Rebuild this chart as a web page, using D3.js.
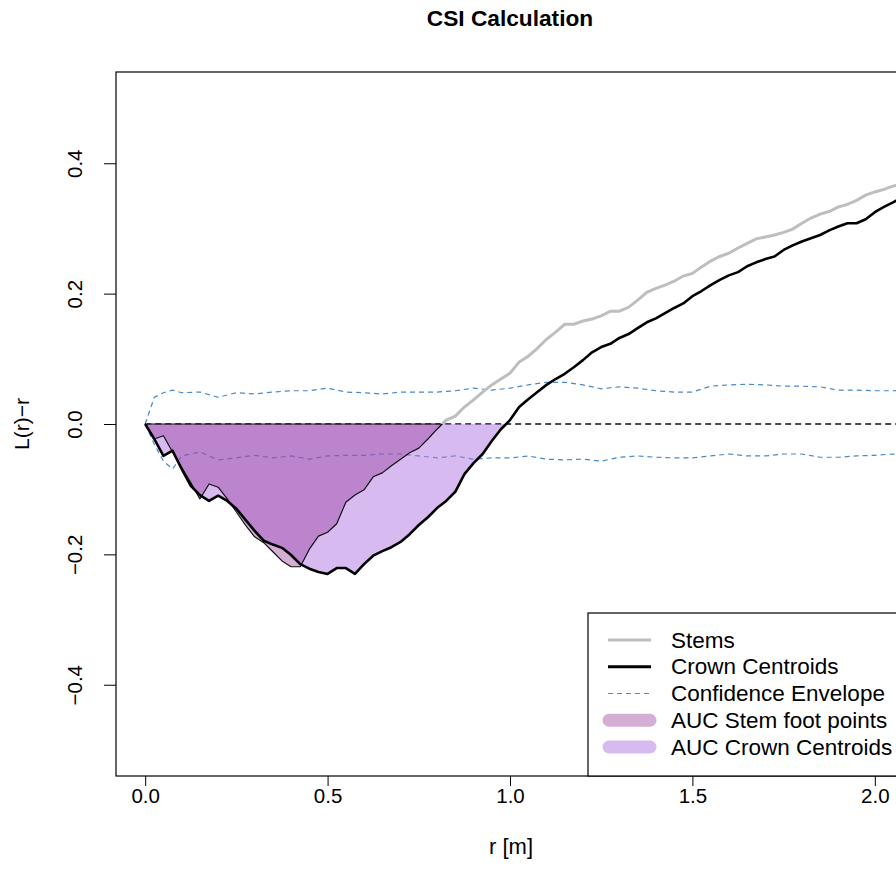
<!DOCTYPE html>
<html>
<head>
<meta charset="utf-8">
<script src="https://cdn.jsdelivr.net/npm/d3@7.9.0/dist/d3.min.js"></script>
<style>
  body { margin: 0; background: #fff; }
  svg { display: block; font-family: "Liberation Sans", Arial, Helvetica, sans-serif; }
</style>
</head>
<body>
<svg id="chart" width="896" height="888"></svg>
<script>
// r grid of the K/L estimates (m)
const r = [0, 0.025, 0.05, 0.075, 0.1, 0.125, 0.15, 0.175, 0.2, 0.225,
  0.25, 0.275, 0.3, 0.325, 0.35, 0.375, 0.4, 0.425, 0.45, 0.475,
  0.5, 0.525, 0.55, 0.575, 0.6, 0.625, 0.65, 0.675, 0.7, 0.725,
  0.75, 0.775, 0.8, 0.825, 0.85, 0.875, 0.9, 0.925, 0.95, 0.975,
  1.0, 1.025, 1.05, 1.075, 1.1, 1.125, 1.15, 1.175, 1.2, 1.225,
  1.25, 1.275, 1.3, 1.325, 1.35, 1.375, 1.4, 1.425, 1.45, 1.475,
  1.5, 1.525, 1.55, 1.575, 1.6, 1.625, 1.65, 1.675, 1.7, 1.725,
  1.75, 1.775, 1.8, 1.825, 1.85, 1.875, 1.9, 1.925, 1.95, 1.975,
  2.0, 2.025, 2.05, 2.075, 2.1];

// L(r)-r for stem foot points
const stems = [0, -0.023, -0.018, -0.043, -0.067, -0.090, -0.115, -0.092, -0.097, -0.115,
  -0.135, -0.155, -0.173, -0.182, -0.196, -0.210, -0.219, -0.219, -0.192, -0.172,
  -0.166, -0.153, -0.120, -0.109, -0.101, -0.081, -0.075, -0.064, -0.054, -0.044,
  -0.037, -0.023, -0.008, 0.006, 0.012, 0.026, 0.037, 0.049, 0.060, 0.069,
  0.078, 0.095, 0.104, 0.116, 0.130, 0.141, 0.153, 0.153, 0.158, 0.161,
  0.166, 0.173, 0.173, 0.179, 0.190, 0.202, 0.208, 0.213, 0.219, 0.227,
  0.231, 0.241, 0.250, 0.257, 0.262, 0.270, 0.277, 0.284, 0.287, 0.290,
  0.294, 0.299, 0.308, 0.316, 0.322, 0.326, 0.333, 0.337, 0.343, 0.351,
  0.356, 0.360, 0.365, 0.368, 0.371];

// L(r)-r for crown centroids
const crowns = [0, -0.023, -0.049, -0.041, -0.069, -0.095, -0.109, -0.118, -0.110, -0.118,
  -0.130, -0.147, -0.164, -0.179, -0.185, -0.190, -0.201, -0.215, -0.222, -0.227,
  -0.230, -0.221, -0.221, -0.230, -0.215, -0.202, -0.195, -0.189, -0.181, -0.169,
  -0.155, -0.143, -0.129, -0.118, -0.104, -0.077, -0.060, -0.046, -0.026, -0.008,
  0.006, 0.026, 0.038, 0.049, 0.060, 0.069, 0.077, 0.087, 0.098, 0.110,
  0.118, 0.123, 0.132, 0.138, 0.147, 0.156, 0.162, 0.170, 0.178, 0.185,
  0.196, 0.204, 0.213, 0.221, 0.228, 0.233, 0.242, 0.248, 0.253, 0.257,
  0.267, 0.274, 0.280, 0.285, 0.290, 0.297, 0.303, 0.308, 0.308, 0.314,
  0.325, 0.333, 0.340, 0.348, 0.354];

// confidence envelope
const envR = [0, 0.025, 0.05, 0.075,
  0.1, 0.15, 0.2, 0.25, 0.3, 0.35, 0.4, 0.45, 0.5, 0.55,
  0.6, 0.65, 0.7, 0.75, 0.8, 0.85, 0.9, 0.95, 1.0, 1.05,
  1.1, 1.15, 1.2, 1.25, 1.3, 1.35, 1.4, 1.45, 1.5, 1.55,
  1.6, 1.65, 1.7, 1.75, 1.8, 1.85, 1.9, 1.95, 2.0, 2.05, 2.1];
const envHi = [0, 0.041, 0.048, 0.052,
  0.048, 0.049, 0.041, 0.048, 0.046, 0.049, 0.051, 0.051, 0.055, 0.049,
  0.048, 0.046, 0.049, 0.049, 0.049, 0.051, 0.055, 0.052, 0.055, 0.060,
  0.064, 0.064, 0.060, 0.054, 0.057, 0.055, 0.051, 0.049, 0.049, 0.058,
  0.060, 0.061, 0.060, 0.058, 0.058, 0.057, 0.052, 0.052, 0.051, 0.051, 0.052];
const envLo = [0, -0.031, -0.057, -0.069,
  -0.049, -0.043, -0.055, -0.052, -0.048, -0.052, -0.049, -0.054, -0.049, -0.048,
  -0.048, -0.046, -0.046, -0.049, -0.052, -0.049, -0.054, -0.052, -0.052, -0.049,
  -0.054, -0.055, -0.054, -0.057, -0.051, -0.049, -0.051, -0.052, -0.052, -0.049,
  -0.046, -0.049, -0.049, -0.046, -0.046, -0.051, -0.051, -0.049, -0.048, -0.046, -0.048];

const xTicks = [0, 0.5, 1, 1.5, 2];
const yTicks = [-0.4, -0.2, 0, 0.2, 0.4];

const legendLabels = ['Stems', 'Crown Centroids', 'Confidence Envelope',
  'AUC Stem foot points', 'AUC Crown Centroids'];

const stemFill = 'rgba(145,42,145,0.38)';
const crownFill = 'rgba(175,120,225,0.5)';
const envColor = '#4a88c6';

const plotL = 116, plotR = 904, plotT = 72, plotB = 776;

const svg = d3.select('#chart');
const x = d3.scaleLinear().domain([-0.08, 2.08]).range([plotL, plotR]);
const y = d3.scaleLinear().domain([-0.54, 0.54]).range([plotB, plotT]);

const defs = svg.append('defs');
defs.append('clipPath').attr('id', 'plotclip')
  .append('rect').attr('x', plotL).attr('y', plotT)
  .attr('width', plotR - plotL).attr('height', plotB - plotT);
defs.append('clipPath').attr('id', 'posclip')
  .append('rect').attr('x', plotL).attr('y', plotT)
  .attr('width', plotR - plotL).attr('height', y(0) - plotT);

const plot = svg.append('g').attr('clip-path', 'url(#plotclip)');

const line = d3.line().x((d) => x(d[0])).y((d) => y(d[1]));

// envelope
[envHi, envLo].forEach((vals) => {
  plot.append('path')
    .attr('d', line(envR.map((d, i) => [d, vals[i]])))
    .attr('fill', 'none')
    .attr('stroke', envColor)
    .attr('stroke-width', 1.2)
    .attr('stroke-dasharray', '5,4');
});

// theoretical zero line
plot.append('path')
  .attr('d', line([[0, 0], [r[r.length - 1], 0]]))
  .attr('stroke', '#111')
  .attr('stroke-width', 1.4)
  .attr('stroke-dasharray', '6,4');

// area under curve: negative part until first zero crossing
function aucPolygon(vals) {
  let pts = [[r[0], 0]];
  for (let i = 1; i < r.length; i++) {
    if (vals[i] >= 0) {
      let t = vals[i - 1] / (vals[i - 1] - vals[i]);
      pts.push([r[i - 1] + t * (r[i] - r[i - 1]), 0]);
      break;
    }
    pts.push([r[i], vals[i]]);
  }
  return pts;
}

plot.append('path')
  .attr('d', line(aucPolygon(crowns)) + 'Z')
  .attr('fill', crownFill)
  .attr('stroke', 'none');

plot.append('path')
  .attr('d', line(aucPolygon(stems)) + 'Z')
  .attr('fill', stemFill)
  .attr('stroke', '#111')
  .attr('stroke-width', 1.2)
  .attr('stroke-linejoin', 'round');

// curves
svg.append('g').attr('clip-path', 'url(#posclip)')
  .append('path')
  .attr('d', line(r.map((d, i) => [d, stems[i]])))
  .attr('fill', 'none')
  .attr('stroke', '#bebebe')
  .attr('stroke-width', 3);

plot.append('path')
  .attr('d', line(r.map((d, i) => [d, crowns[i]])))
  .attr('fill', 'none')
  .attr('stroke', '#000')
  .attr('stroke-width', 2.6)
  .attr('stroke-linejoin', 'round');

// axes
const xAxis = svg.append('g')
  .attr('transform', `translate(0,${plotB})`)
  .call(d3.axisBottom(x).tickValues(xTicks).tickFormat(d3.format('.1f'))
    .tickSize(10).tickPadding(2));
xAxis.select('.domain').remove();
xAxis.attr('font-family', null);
xAxis.selectAll('line').attr('stroke', '#000');
xAxis.selectAll('text').attr('font-size', 20.5).attr('fill', '#000');

const yAxis = svg.append('g')
  .attr('transform', `translate(${plotL},0)`)
  .call(d3.axisLeft(y).tickValues(yTicks).tickFormat(d3.format('.1f')).tickSize(12));
yAxis.select('.domain').remove();
yAxis.attr('font-family', null);
yAxis.selectAll('line').attr('stroke', '#000');
yAxis.selectAll('text')
  .attr('font-size', 20.5).attr('fill', '#000')
  .attr('transform', 'rotate(-90)')
  .attr('x', 0).attr('y', -42).attr('dy', null)
  .attr('text-anchor', 'middle')
  .attr('dominant-baseline', 'central');

// plot frame
svg.append('rect')
  .attr('x', plotL).attr('y', plotT)
  .attr('width', plotR - plotL).attr('height', plotB - plotT)
  .attr('fill', 'none').attr('stroke', '#000').attr('stroke-width', 1.2);

// titles
svg.append('text')
  .attr('x', 510).attr('y', 18)
  .attr('text-anchor', 'middle').attr('dominant-baseline', 'central')
  .attr('font-size', 22.7).attr('font-weight', 'bold')
  .text('CSI Calculation');

svg.append('text')
  .attr('x', 511).attr('y', 846)
  .attr('text-anchor', 'middle').attr('dominant-baseline', 'central')
  .attr('font-size', 22)
  .text('r [m]');

svg.append('text')
  .attr('transform', `translate(21,${y(0)}) rotate(-90)`)
  .attr('text-anchor', 'middle').attr('dominant-baseline', 'central')
  .attr('font-size', 21)
  .text('L(r)\u2212r');

// legend
const lg = svg.append('g');
lg.append('rect')
  .attr('x', 588).attr('y', 613)
  .attr('width', plotR - 588).attr('height', plotB - 613)
  .attr('fill', '#fff').attr('stroke', '#000').attr('stroke-width', 1.2);

const rowY = d3.scalePoint().domain(legendLabels).range([640, 747]);
const keyStyles = [
  { stroke: '#bebebe', width: 3, dash: null, cap: 'butt' },
  { stroke: '#000', width: 3, dash: null, cap: 'butt' },
  { stroke: envColor, width: 1.2, dash: '5,4', cap: 'butt' },
  { stroke: stemFill, width: 13, dash: null, cap: 'round' },
  { stroke: crownFill, width: 13, dash: null, cap: 'round' }
];

legendLabels.forEach((label, i) => {
  let s = keyStyles[i];
  let inset = s.cap === 'round' ? 1 : 0;
  lg.append('line')
    .attr('x1', 608 + inset).attr('x2', 651 - inset)
    .attr('y1', rowY(label)).attr('y2', rowY(label))
    .attr('stroke', s.stroke).attr('stroke-width', s.width)
    .attr('stroke-dasharray', s.dash).attr('stroke-linecap', s.cap);
  lg.append('text')
    .attr('x', 671).attr('y', rowY(label))
    .attr('dominant-baseline', 'central')
    .attr('font-size', 22.5)
    .text(label);
});
</script>
</body>
</html>
